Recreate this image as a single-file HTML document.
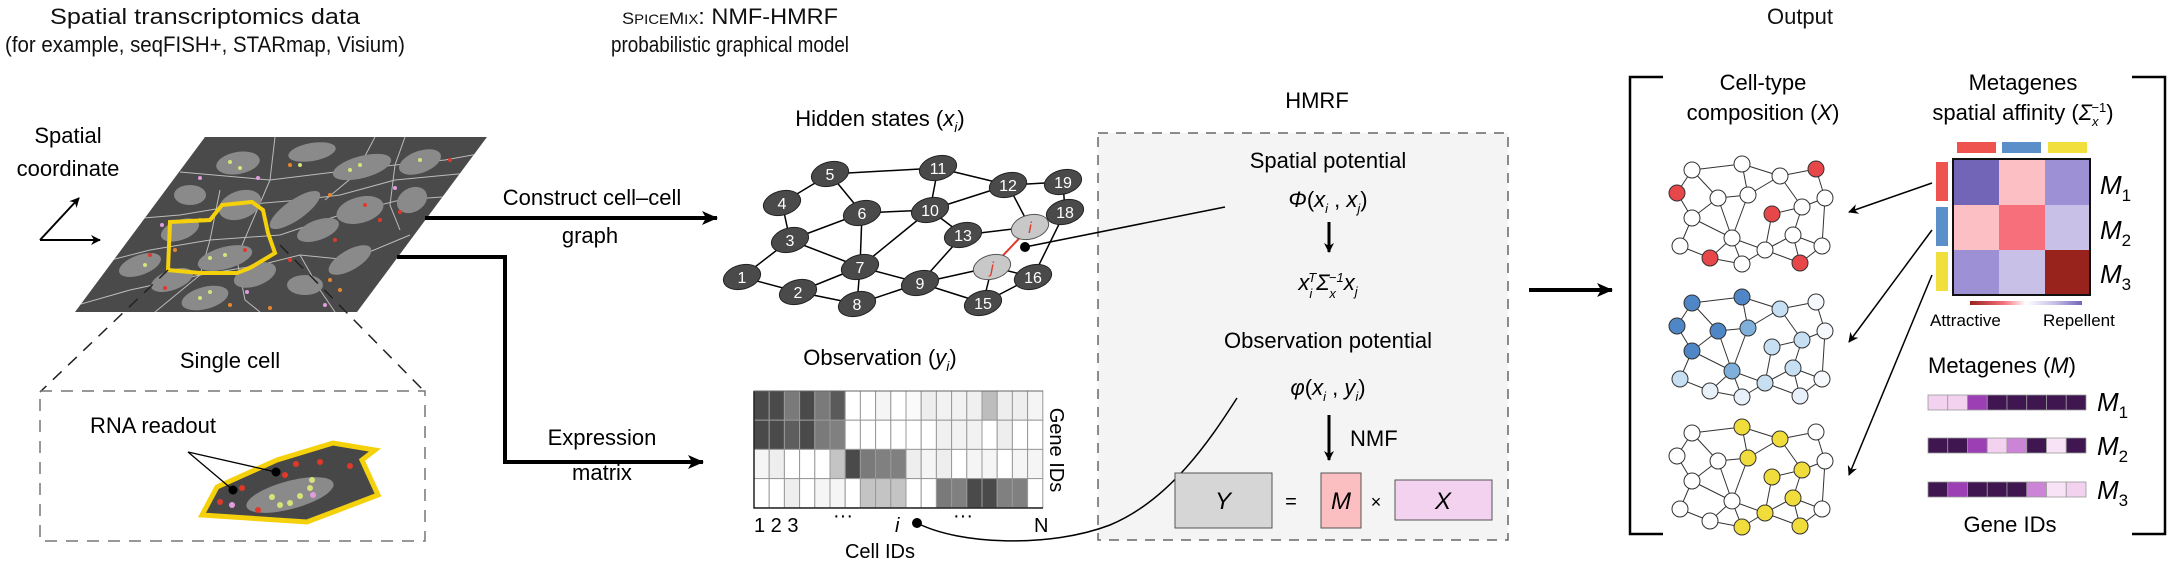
<!DOCTYPE html>
<html><head><meta charset="utf-8"><style>
html,body{margin:0;padding:0;background:#fff;}
svg{display:block;font-family:"Liberation Sans",sans-serif;}
</style></head><body>
<svg width="2167" height="566" viewBox="0 0 2167 566" xmlns="http://www.w3.org/2000/svg">
<defs>
<marker id="ah" markerWidth="10" markerHeight="10" refX="9" refY="5" orient="auto" markerUnits="userSpaceOnUse"><path d="M0,0 L10,5 L0,10 L3,5 z" fill="#000"/></marker>
<marker id="ahb" markerWidth="16" markerHeight="14" refX="15" refY="7" orient="auto" markerUnits="userSpaceOnUse"><path d="M0,0 L16,7 L0,14 L4,7 z" fill="#000"/></marker>
<clipPath id="pg"><polygon points="205,137 487,137 357,312 75,312"/></clipPath>
<linearGradient id="grad" x1="0" x2="1"><stop offset="0" stop-color="#98221c"/><stop offset="0.3" stop-color="#f76f7a"/><stop offset="0.5" stop-color="#ffffff"/><stop offset="0.75" stop-color="#c9c0e8"/><stop offset="1" stop-color="#7265b8"/></linearGradient>
</defs>

<!-- Titles -->
<g font-size="22" text-anchor="middle" fill="#111">
<text x="205" y="24" textLength="310" lengthAdjust="spacingAndGlyphs">Spatial transcriptomics data</text>
<text x="205" y="52" textLength="400" lengthAdjust="spacingAndGlyphs">(for example, seqFISH+, STARmap, Visium)</text>
<text x="730" y="24" textLength="216" lengthAdjust="spacingAndGlyphs"><tspan font-size="17">S</tspan><tspan font-size="14">PICE</tspan><tspan font-size="17">M</tspan><tspan font-size="14">IX</tspan>: NMF-HMRF</text>
<text x="730" y="52" textLength="238" lengthAdjust="spacingAndGlyphs">probabilistic graphical model</text>
<text x="1800" y="24">Output</text>
</g>

<!-- Spatial coordinate -->
<g font-size="22" text-anchor="middle"><text x="68" y="143">Spatial</text><text x="68" y="176">coordinate</text></g>
<line x1="40" y1="240" x2="79" y2="198" stroke="#000" stroke-width="2" marker-end="url(#ah)"/>
<line x1="40" y1="240" x2="100" y2="240" stroke="#000" stroke-width="2" marker-end="url(#ah)"/>

<!-- Tissue parallelogram -->
<polygon points="205,137 487,137 357,312 75,312" fill="#4a4a4a"/>
<g clip-path="url(#pg)">
<g fill="none" stroke="#bbb" stroke-width="1">
<path d="M180,172 L270,180 L335,172 L395,165 L445,160 L500,150"/>
<path d="M120,220 L180,215 L240,205 L300,200 L340,195 L395,180 L500,170"/>
<path d="M80,268 L150,250 L210,240 L280,235 L340,215 L400,200 L470,195"/>
<path d="M60,310 L130,290 L200,275 L260,265 L300,255 L350,260 L410,235"/>
<path d="M275,137 L270,180 L255,215 L240,250"/>
<path d="M375,137 L355,175 L325,200"/>
<path d="M405,137 L395,165 L390,205 L400,230"/>
<path d="M220,190 L210,240 L200,275 L155,312"/>
<path d="M235,250 L245,300 L260,312"/>
<path d="M300,255 L320,290 L335,312"/>
</g>
<g fill="#8a8a8a">
<ellipse cx="238" cy="163" rx="22" ry="11" transform="rotate(-10 238 163)"/>
<ellipse cx="312" cy="152" rx="24" ry="9" transform="rotate(-10 312 152)"/>
<ellipse cx="362" cy="167" rx="30" ry="11" transform="rotate(-15 362 167)"/>
<ellipse cx="420" cy="162" rx="22" ry="11" transform="rotate(-20 420 162)"/>
<ellipse cx="190" cy="195" rx="16" ry="10"/>
<ellipse cx="240" cy="205" rx="22" ry="14" transform="rotate(-20 240 205)"/>
<ellipse cx="295" cy="210" rx="30" ry="10" transform="rotate(-35 295 210)"/>
<ellipse cx="360" cy="210" rx="24" ry="13" transform="rotate(-15 360 210)"/>
<ellipse cx="412" cy="200" rx="16" ry="12" transform="rotate(-30 412 200)"/>
<ellipse cx="180" cy="230" rx="20" ry="10" transform="rotate(-20 180 230)"/>
<ellipse cx="318" cy="230" rx="22" ry="10" transform="rotate(-20 318 230)"/>
<ellipse cx="140" cy="265" rx="22" ry="10" transform="rotate(-20 140 265)"/>
<ellipse cx="225" cy="258" rx="28" ry="11" transform="rotate(-15 225 258)"/>
<ellipse cx="350" cy="260" rx="24" ry="10" transform="rotate(-30 350 260)"/>
<ellipse cx="172" cy="280" rx="22" ry="10" transform="rotate(-20 172 280)"/>
<ellipse cx="255" cy="275" rx="22" ry="11" transform="rotate(-20 255 275)"/>
<ellipse cx="205" cy="298" rx="24" ry="11" transform="rotate(-15 205 298)"/>
<ellipse cx="305" cy="285" rx="18" ry="10"/>
</g>
<g fill="#d8e27a"><circle cx="230" cy="162" r="2"/><circle cx="240" cy="168" r="2"/><circle cx="350" cy="170" r="2"/><circle cx="360" cy="165" r="2"/><circle cx="420" cy="160" r="2"/><circle cx="210" cy="258" r="2"/><circle cx="225" cy="255" r="2"/><circle cx="145" cy="265" r="2"/><circle cx="200" cy="298" r="2"/><circle cx="210" cy="292" r="2"/><circle cx="300" cy="165" r="2"/></g>
<g fill="#e0392a"><circle cx="365" cy="205" r="2"/><circle cx="380" cy="220" r="2"/><circle cx="400" cy="212" r="2"/><circle cx="335" cy="240" r="2"/><circle cx="245" cy="250" r="2"/><circle cx="290" cy="260" r="2"/><circle cx="165" cy="288" r="2"/><circle cx="150" cy="255" r="2"/><circle cx="450" cy="160" r="2"/></g>
<g fill="#e8862a"><circle cx="175" cy="250" r="2"/><circle cx="290" cy="165" r="2"/><circle cx="330" cy="195" r="2"/><circle cx="330" cy="280" r="2"/><circle cx="340" cy="290" r="2"/><circle cx="270" cy="308" r="2"/><circle cx="230" cy="305" r="2"/><circle cx="200" cy="220" r="2"/></g>
<g fill="#e29be0"><circle cx="200" cy="178" r="2"/><circle cx="258" cy="178" r="2"/><circle cx="162" cy="225" r="2"/><circle cx="325" cy="305" r="2"/><circle cx="395" cy="188" r="2"/><circle cx="247" cy="292" r="2"/></g>
</g>
<polygon points="170,222 210,220 222,205 252,202 263,210 268,233 275,253 250,268 237,273 200,273 168,270" fill="none" stroke="#f5d10b" stroke-width="4"/>

<!-- Zoom dashed lines + box -->
<g stroke="#222" stroke-width="1.5" stroke-dasharray="12,9" fill="none">
<line x1="168" y1="270" x2="40" y2="392"/>
<line x1="280" y1="245" x2="425" y2="392"/>
</g>
<rect x="40" y="391" width="385" height="150" fill="none" stroke="#777" stroke-width="1.5" stroke-dasharray="12,9"/>
<text x="230" y="368" font-size="22" text-anchor="middle">Single cell</text>
<text x="90" y="433" font-size="22">RNA readout</text>
<polygon points="202,515 217,487 277,460 333,443 375,450 362,460 378,495 307,522" fill="#474747" stroke="#f5d10b" stroke-width="5"/>
<ellipse cx="290" cy="495" rx="45" ry="14" transform="rotate(-15 290 495)" fill="#8a8a8a"/>
<g fill="#d8e27a"><circle cx="272" cy="497" r="3"/><circle cx="290" cy="503" r="3"/><circle cx="300" cy="496" r="3"/><circle cx="310" cy="488" r="3"/><circle cx="280" cy="505" r="3"/><circle cx="312" cy="480" r="3"/></g>
<g fill="#e0392a"><circle cx="242" cy="488" r="3"/><circle cx="285" cy="475" r="3"/><circle cx="350" cy="466" r="3"/><circle cx="320" cy="462" r="3"/><circle cx="220" cy="502" r="3"/><circle cx="258" cy="510" r="3"/><circle cx="296" cy="464" r="3"/></g>
<g fill="#e29be0"><circle cx="232" cy="505" r="3"/><circle cx="313" cy="495" r="3"/></g>
<g stroke="#000" stroke-width="1.3"><line x1="188" y1="452" x2="233" y2="490"/><line x1="188" y1="452" x2="276" y2="472"/></g>
<circle cx="233" cy="490" r="4.5" fill="#000"/><circle cx="276" cy="472" r="4.5" fill="#000"/>

<!-- Main arrows -->
<line x1="425" y1="218" x2="717" y2="218" stroke="#000" stroke-width="4" marker-end="url(#ahb)"/>
<g font-size="22" text-anchor="middle"><text x="592" y="205">Construct cell–cell</text><text x="590" y="243">graph</text></g>
<polyline points="397,257 505,257 505,462 703,462" fill="none" stroke="#000" stroke-width="4" marker-end="url(#ahb)"/>
<g font-size="22" text-anchor="middle"><text x="602" y="445">Expression</text><text x="602" y="480">matrix</text></g>

<!-- HMRF box (drawn before graph/lines) -->
<text x="1317" y="108" font-size="22" text-anchor="middle">HMRF</text>
<rect x="1098" y="133" width="410" height="407" fill="#f4f4f4" stroke="#666" stroke-width="1.5" stroke-dasharray="10,8"/>

<!-- Hidden states graph -->
<text x="880" y="126" font-size="22" text-anchor="middle">Hidden states (<tspan font-style="italic">x</tspan><tspan font-style="italic" font-size="14" dy="6">i</tspan><tspan dy="-6">)</tspan></text>
<g stroke="#000" stroke-width="1.5">
<line x1="742" y1="277" x2="790" y2="240"/><line x1="742" y1="277" x2="798" y2="292"/>
<line x1="798" y1="292" x2="860" y2="267"/><line x1="798" y1="292" x2="857" y2="304"/>
<line x1="790" y1="240" x2="782" y2="203"/><line x1="782" y1="203" x2="830" y2="174"/>
<line x1="830" y1="174" x2="862" y2="213"/><line x1="830" y1="174" x2="938" y2="168"/>
<line x1="790" y1="240" x2="862" y2="213"/><line x1="790" y1="240" x2="860" y2="267"/>
<line x1="862" y1="213" x2="860" y2="267"/><line x1="862" y1="213" x2="930" y2="210"/>
<line x1="860" y1="267" x2="857" y2="304"/><line x1="860" y1="267" x2="920" y2="283"/>
<line x1="860" y1="267" x2="930" y2="210"/><line x1="857" y1="304" x2="920" y2="283"/>
<line x1="920" y1="283" x2="963" y2="235"/><line x1="920" y1="283" x2="992" y2="267"/>
<line x1="920" y1="283" x2="983" y2="303"/><line x1="930" y1="210" x2="938" y2="168"/>
<line x1="930" y1="210" x2="1008" y2="185"/><line x1="930" y1="210" x2="963" y2="235"/>
<line x1="938" y1="168" x2="1008" y2="185"/><line x1="1008" y1="185" x2="1030" y2="227"/>
<line x1="963" y1="235" x2="1030" y2="227"/><line x1="992" y1="267" x2="983" y2="303"/>
<line x1="992" y1="267" x2="1033" y2="277"/><line x1="983" y1="303" x2="1033" y2="277"/>
<line x1="1008" y1="185" x2="1063" y2="182"/><line x1="1063" y1="182" x2="1065" y2="212"/>
<line x1="1065" y1="212" x2="1033" y2="277"/><line x1="1030" y1="227" x2="1065" y2="212"/>
</g>
<line x1="1030" y1="227" x2="992" y2="267" stroke="#e0392a" stroke-width="2"/>
<g fill="#4a4a4a" stroke="#222" stroke-width="1">
<ellipse cx="742" cy="277" rx="19" ry="12" transform="rotate(-15 742 277)"/>
<ellipse cx="798" cy="292" rx="19" ry="12" transform="rotate(-15 798 292)"/>
<ellipse cx="790" cy="240" rx="19" ry="12" transform="rotate(-15 790 240)"/>
<ellipse cx="782" cy="203" rx="19" ry="12" transform="rotate(-15 782 203)"/>
<ellipse cx="830" cy="174" rx="19" ry="12" transform="rotate(-15 830 174)"/>
<ellipse cx="862" cy="213" rx="19" ry="12" transform="rotate(-15 862 213)"/>
<ellipse cx="860" cy="267" rx="19" ry="12" transform="rotate(-15 860 267)"/>
<ellipse cx="857" cy="304" rx="19" ry="12" transform="rotate(-15 857 304)"/>
<ellipse cx="920" cy="283" rx="19" ry="12" transform="rotate(-15 920 283)"/>
<ellipse cx="930" cy="210" rx="19" ry="12" transform="rotate(-15 930 210)"/>
<ellipse cx="938" cy="168" rx="19" ry="12" transform="rotate(-15 938 168)"/>
<ellipse cx="1008" cy="185" rx="19" ry="12" transform="rotate(-15 1008 185)"/>
<ellipse cx="963" cy="235" rx="19" ry="12" transform="rotate(-15 963 235)"/>
<ellipse cx="983" cy="303" rx="19" ry="12" transform="rotate(-15 983 303)"/>
<ellipse cx="1033" cy="277" rx="19" ry="12" transform="rotate(-15 1033 277)"/>
<ellipse cx="1063" cy="182" rx="19" ry="12" transform="rotate(-15 1063 182)"/>
<ellipse cx="1065" cy="212" rx="19" ry="12" transform="rotate(-15 1065 212)"/>
</g>
<g fill="#c8c8c8" stroke="#555" stroke-width="1">
<ellipse cx="1030" cy="227" rx="19" ry="12" transform="rotate(-15 1030 227)"/>
<ellipse cx="992" cy="267" rx="19" ry="12" transform="rotate(-15 992 267)"/>
</g>
<g fill="#fff" font-size="16" text-anchor="middle">
<text x="742" y="283">1</text><text x="798" y="298">2</text><text x="790" y="246">3</text><text x="782" y="209">4</text><text x="830" y="180">5</text><text x="862" y="219">6</text><text x="860" y="273">7</text><text x="857" y="310">8</text><text x="920" y="289">9</text><text x="930" y="216">10</text><text x="938" y="174">11</text><text x="1008" y="191">12</text><text x="963" y="241">13</text><text x="983" y="309">15</text><text x="1033" y="283">16</text><text x="1063" y="188">19</text><text x="1065" y="218">18</text>
</g>
<g fill="#e0392a" font-size="16" font-style="italic" text-anchor="middle"><text x="1030" y="233">i</text><text x="992" y="273">j</text></g>
<line x1="1025" y1="247" x2="1225" y2="207" stroke="#000" stroke-width="1.5"/>
<circle cx="1025" cy="247" r="5" fill="#000"/>

<!-- Observation matrix -->
<text x="880" y="365" font-size="22" text-anchor="middle">Observation (<tspan font-style="italic">y</tspan><tspan font-style="italic" font-size="14" dy="6">i</tspan><tspan dy="-6">)</tspan></text>
<g stroke="#999" stroke-width="1">
<rect x="754" y="391" width="15.2" height="29.2" fill="#4a4a4a"/><rect x="769.2" y="391" width="15.2" height="29.2" fill="#4a4a4a"/><rect x="784.4" y="391" width="15.2" height="29.2" fill="#7a7a7a"/><rect x="799.6" y="391" width="15.2" height="29.2" fill="#4a4a4a"/><rect x="814.8" y="391" width="15.2" height="29.2" fill="#7a7a7a"/><rect x="830" y="391" width="15.2" height="29.2" fill="#5a5a5a"/><rect x="845.2" y="391" width="15.2" height="29.2" fill="#fff"/><rect x="860.4" y="391" width="15.2" height="29.2" fill="#fff"/><rect x="875.6" y="391" width="15.2" height="29.2" fill="#f5f5f5"/><rect x="890.8" y="391" width="15.2" height="29.2" fill="#fff"/><rect x="906" y="391" width="15.2" height="29.2" fill="#fafafa"/><rect x="921.2" y="391" width="15.2" height="29.2" fill="#eee"/><rect x="936.4" y="391" width="15.2" height="29.2" fill="#f2f2f2"/><rect x="951.6" y="391" width="15.2" height="29.2" fill="#f2f2f2"/><rect x="966.8" y="391" width="15.2" height="29.2" fill="#f0f0f0"/><rect x="982" y="391" width="15.2" height="29.2" fill="#bdbdbd"/><rect x="997.2" y="391" width="15.2" height="29.2" fill="#eee"/><rect x="1012.4" y="391" width="15.2" height="29.2" fill="#eee"/><rect x="1027.6" y="391" width="15.2" height="29.2" fill="#f5f5f5"/>
<rect x="754" y="420.2" width="15.2" height="29.2" fill="#4a4a4a"/><rect x="769.2" y="420.2" width="15.2" height="29.2" fill="#4a4a4a"/><rect x="784.4" y="420.2" width="15.2" height="29.2" fill="#5e5e5e"/><rect x="799.6" y="420.2" width="15.2" height="29.2" fill="#4a4a4a"/><rect x="814.8" y="420.2" width="15.2" height="29.2" fill="#7a7a7a"/><rect x="830" y="420.2" width="15.2" height="29.2" fill="#808080"/><rect x="845.2" y="420.2" width="15.2" height="29.2" fill="#fff"/><rect x="860.4" y="420.2" width="15.2" height="29.2" fill="#fff"/><rect x="875.6" y="420.2" width="15.2" height="29.2" fill="#fff"/><rect x="890.8" y="420.2" width="15.2" height="29.2" fill="#fff"/><rect x="906" y="420.2" width="15.2" height="29.2" fill="#fff"/><rect x="921.2" y="420.2" width="15.2" height="29.2" fill="#fff"/><rect x="936.4" y="420.2" width="15.2" height="29.2" fill="#f0f0f0"/><rect x="951.6" y="420.2" width="15.2" height="29.2" fill="#f2f2f2"/><rect x="966.8" y="420.2" width="15.2" height="29.2" fill="#f2f2f2"/><rect x="982" y="420.2" width="15.2" height="29.2" fill="#fff"/><rect x="997.2" y="420.2" width="15.2" height="29.2" fill="#eee"/><rect x="1012.4" y="420.2" width="15.2" height="29.2" fill="#fff"/><rect x="1027.6" y="420.2" width="15.2" height="29.2" fill="#fff"/>
<rect x="754" y="449.4" width="15.2" height="29.2" fill="#f5f5f5"/><rect x="769.2" y="449.4" width="15.2" height="29.2" fill="#eee"/><rect x="784.4" y="449.4" width="15.2" height="29.2" fill="#fff"/><rect x="799.6" y="449.4" width="15.2" height="29.2" fill="#fff"/><rect x="814.8" y="449.4" width="15.2" height="29.2" fill="#fff"/><rect x="830" y="449.4" width="15.2" height="29.2" fill="#c4c4c4"/><rect x="845.2" y="449.4" width="15.2" height="29.2" fill="#4a4a4a"/><rect x="860.4" y="449.4" width="15.2" height="29.2" fill="#7a7a7a"/><rect x="875.6" y="449.4" width="15.2" height="29.2" fill="#808080"/><rect x="890.8" y="449.4" width="15.2" height="29.2" fill="#808080"/><rect x="906" y="449.4" width="15.2" height="29.2" fill="#eee"/><rect x="921.2" y="449.4" width="15.2" height="29.2" fill="#f5f5f5"/><rect x="936.4" y="449.4" width="15.2" height="29.2" fill="#eee"/><rect x="951.6" y="449.4" width="15.2" height="29.2" fill="#fff"/><rect x="966.8" y="449.4" width="15.2" height="29.2" fill="#f5f5f5"/><rect x="982" y="449.4" width="15.2" height="29.2" fill="#f5f5f5"/><rect x="997.2" y="449.4" width="15.2" height="29.2" fill="#fff"/><rect x="1012.4" y="449.4" width="15.2" height="29.2" fill="#f5f5f5"/><rect x="1027.6" y="449.4" width="15.2" height="29.2" fill="#f5f5f5"/>
<rect x="754" y="478.6" width="15.2" height="29.2" fill="#fff"/><rect x="769.2" y="478.6" width="15.2" height="29.2" fill="#fff"/><rect x="784.4" y="478.6" width="15.2" height="29.2" fill="#eee"/><rect x="799.6" y="478.6" width="15.2" height="29.2" fill="#fff"/><rect x="814.8" y="478.6" width="15.2" height="29.2" fill="#f5f5f5"/><rect x="830" y="478.6" width="15.2" height="29.2" fill="#f5f5f5"/><rect x="845.2" y="478.6" width="15.2" height="29.2" fill="#fff"/><rect x="860.4" y="478.6" width="15.2" height="29.2" fill="#c4c4c4"/><rect x="875.6" y="478.6" width="15.2" height="29.2" fill="#c4c4c4"/><rect x="890.8" y="478.6" width="15.2" height="29.2" fill="#c4c4c4"/><rect x="906" y="478.6" width="15.2" height="29.2" fill="#fff"/><rect x="921.2" y="478.6" width="15.2" height="29.2" fill="#fff"/><rect x="936.4" y="478.6" width="15.2" height="29.2" fill="#7a7a7a"/><rect x="951.6" y="478.6" width="15.2" height="29.2" fill="#808080"/><rect x="966.8" y="478.6" width="15.2" height="29.2" fill="#4a4a4a"/><rect x="982" y="478.6" width="15.2" height="29.2" fill="#4a4a4a"/><rect x="997.2" y="478.6" width="15.2" height="29.2" fill="#808080"/><rect x="1012.4" y="478.6" width="15.2" height="29.2" fill="#808080"/><rect x="1027.6" y="478.6" width="15.2" height="29.2" fill="#fff"/>
</g>
<polyline points="754,391 754,508 1043,508" fill="none" stroke="#222" stroke-width="1.5"/>
<line x1="754" y1="391" x2="1043" y2="391" stroke="#666" stroke-width="1"/>
<g font-size="20">
<text x="754" y="532">1 2 3</text><text x="833" y="522">···</text><text x="895" y="532" font-style="italic">i</text><text x="953" y="522">···</text><text x="1034" y="532">N</text>
</g>
<text x="1050" y="450" font-size="20" text-anchor="middle" transform="rotate(90 1050 450)">Gene IDs</text>
<text x="880" y="558" font-size="20" text-anchor="middle">Cell IDs</text>
<path d="M917,523 C960,545 1050,548 1110,525 C1170,500 1210,440 1237,398" fill="none" stroke="#000" stroke-width="1.5"/>
<circle cx="917" cy="523" r="5" fill="#000"/>

<!-- HMRF contents -->
<g font-size="22" text-anchor="middle">
<text x="1328" y="168">Spatial potential</text>
<text x="1328" y="207"><tspan font-style="italic">Φ</tspan>(<tspan font-style="italic">x</tspan><tspan font-size="13" font-style="italic" dy="6">i</tspan><tspan dy="-6"> , </tspan><tspan font-style="italic">x</tspan><tspan font-size="13" font-style="italic" dy="6">j</tspan><tspan dy="-6">)</tspan></text>
<text x="1328" y="290" font-style="italic">x<tspan font-size="13" dy="8">i</tspan><tspan font-size="13" dx="-4" dy="-16">T</tspan><tspan dy="8">Σ</tspan><tspan font-size="13" dy="8">x</tspan><tspan font-size="13" dx="-7" dy="-16">−1</tspan><tspan dy="8">x</tspan><tspan font-size="13" dy="6">j</tspan></text>
<text x="1328" y="348">Observation potential</text>
<text x="1328" y="395"><tspan font-style="italic">φ</tspan>(<tspan font-style="italic">x</tspan><tspan font-size="13" font-style="italic" dy="6">i</tspan><tspan dy="-6"> , </tspan><tspan font-style="italic">y</tspan><tspan font-size="13" font-style="italic" dy="6">i</tspan><tspan dy="-6">)</tspan></text>
</g>
<line x1="1329" y1="222" x2="1329" y2="252" stroke="#000" stroke-width="3" marker-end="url(#ah)"/>
<line x1="1329" y1="415" x2="1329" y2="460" stroke="#000" stroke-width="3" marker-end="url(#ah)"/>
<text x="1350" y="446" font-size="22">NMF</text>
<rect x="1175" y="473" width="97" height="55" fill="#d6d6d6" stroke="#555" stroke-width="1"/>
<text x="1223" y="509" font-size="24" font-style="italic" text-anchor="middle">Y</text>
<text x="1291" y="508" font-size="20" text-anchor="middle">=</text>
<rect x="1321" y="473" width="40" height="55" fill="#fbbfc1" stroke="#555" stroke-width="1"/>
<text x="1341" y="509" font-size="24" font-style="italic" text-anchor="middle">M</text>
<text x="1376" y="508" font-size="18" text-anchor="middle">×</text>
<rect x="1395" y="480" width="97" height="40" fill="#f2d2ee" stroke="#555" stroke-width="1"/>
<text x="1443" y="509" font-size="24" font-style="italic" text-anchor="middle">X</text>

<!-- Output arrow -->
<line x1="1529" y1="290" x2="1612" y2="290" stroke="#000" stroke-width="4" marker-end="url(#ahb)"/>
<polyline points="1663,77 1630,77 1630,534 1663,534" fill="none" stroke="#000" stroke-width="2.5"/>
<polyline points="2132,77 2165,77 2165,534 2132,534" fill="none" stroke="#000" stroke-width="2.5"/>
<g font-size="22" text-anchor="middle">
<text x="1763" y="90">Cell-type</text>
<text x="1763" y="120">composition (<tspan font-style="italic">X</tspan>)</text>
<text x="2023" y="90">Metagenes</text>
<text x="2023" y="120">spatial affinity (<tspan font-style="italic">Σ</tspan><tspan font-style="italic" font-size="13" dy="6">x</tspan><tspan font-size="13" dx="-7" dy="-14">−1</tspan><tspan dy="8">)</tspan></text>
</g>

<!-- small graphs -->
<g id="sg">
<g stroke="#333" stroke-width="1">
<line x1="1692" y1="170" x2="1742" y2="164"/><line x1="1742" y1="164" x2="1780" y2="176"/><line x1="1780" y1="176" x2="1816" y2="169"/>
<line x1="1692" y1="170" x2="1677" y2="193"/><line x1="1692" y1="170" x2="1718" y2="198"/><line x1="1742" y1="164" x2="1748" y2="195"/>
<line x1="1780" y1="176" x2="1748" y2="195"/><line x1="1780" y1="176" x2="1802" y2="207"/><line x1="1816" y1="169" x2="1825" y2="198"/>
<line x1="1677" y1="193" x2="1692" y2="218"/><line x1="1718" y1="198" x2="1748" y2="195"/><line x1="1718" y1="198" x2="1692" y2="218"/>
<line x1="1718" y1="198" x2="1732" y2="238"/><line x1="1748" y1="195" x2="1732" y2="238"/><line x1="1772" y1="214" x2="1802" y2="207"/>
<line x1="1802" y1="207" x2="1825" y2="198"/><line x1="1772" y1="214" x2="1765" y2="250"/><line x1="1692" y1="218" x2="1732" y2="238"/>
<line x1="1692" y1="218" x2="1680" y2="246"/><line x1="1732" y1="238" x2="1742" y2="264"/><line x1="1732" y1="238" x2="1765" y2="250"/>
<line x1="1793" y1="235" x2="1802" y2="207"/><line x1="1793" y1="235" x2="1765" y2="250"/><line x1="1793" y1="235" x2="1800" y2="263"/>
<line x1="1793" y1="235" x2="1822" y2="246"/><line x1="1680" y1="246" x2="1710" y2="258"/><line x1="1710" y1="258" x2="1732" y2="238"/>
<line x1="1710" y1="258" x2="1742" y2="264"/><line x1="1742" y1="264" x2="1765" y2="250"/><line x1="1765" y1="250" x2="1800" y2="263"/>
<line x1="1800" y1="263" x2="1822" y2="246"/><line x1="1825" y1="198" x2="1822" y2="246"/>
</g>
</g>
<use href="#sg" y="133"/><use href="#sg" y="263"/>
<g stroke="#333" stroke-width="1">
<circle cx="1692" cy="170" r="8" fill="#fff"/><circle cx="1742" cy="164" r="8" fill="#fff"/><circle cx="1780" cy="176" r="8" fill="#fff"/><circle cx="1816" cy="169" r="8" fill="#e8474a"/>
<circle cx="1677" cy="193" r="8" fill="#e8474a"/><circle cx="1718" cy="198" r="8" fill="#fff"/><circle cx="1748" cy="195" r="8" fill="#fff"/><circle cx="1772" cy="214" r="8" fill="#e8474a"/>
<circle cx="1802" cy="207" r="8" fill="#fff"/><circle cx="1825" cy="198" r="8" fill="#fff"/><circle cx="1692" cy="218" r="8" fill="#fff"/><circle cx="1732" cy="238" r="8" fill="#fff"/>
<circle cx="1793" cy="235" r="8" fill="#fff"/><circle cx="1680" cy="246" r="8" fill="#fff"/><circle cx="1710" cy="258" r="8" fill="#e8474a"/><circle cx="1742" cy="264" r="8" fill="#fff"/>
<circle cx="1765" cy="250" r="8" fill="#fff"/><circle cx="1800" cy="263" r="8" fill="#e8474a"/><circle cx="1822" cy="246" r="8" fill="#fff"/>
<circle cx="1692" cy="303" r="8" fill="#4f86c6"/><circle cx="1742" cy="297" r="8" fill="#4f86c6"/><circle cx="1780" cy="309" r="8" fill="#c6dff2"/><circle cx="1816" cy="302" r="8" fill="#f5f8fc"/>
<circle cx="1677" cy="326" r="8" fill="#4f86c6"/><circle cx="1718" cy="331" r="8" fill="#4f86c6"/><circle cx="1748" cy="328" r="8" fill="#7fb0dc"/><circle cx="1772" cy="347" r="8" fill="#c6dff2"/>
<circle cx="1802" cy="340" r="8" fill="#c6dff2"/><circle cx="1825" cy="331" r="8" fill="#f5f8fc"/><circle cx="1692" cy="351" r="8" fill="#4f86c6"/><circle cx="1732" cy="371" r="8" fill="#7fb0dc"/>
<circle cx="1793" cy="368" r="8" fill="#c6dff2"/><circle cx="1680" cy="379" r="8" fill="#c6dff2"/><circle cx="1710" cy="391" r="8" fill="#e8f1fa"/><circle cx="1742" cy="397" r="8" fill="#e8f1fa"/>
<circle cx="1765" cy="383" r="8" fill="#c6dff2"/><circle cx="1800" cy="396" r="8" fill="#e8f1fa"/><circle cx="1822" cy="379" r="8" fill="#f5f8fc"/>
<circle cx="1692" cy="433" r="8" fill="#fff"/><circle cx="1742" cy="427" r="8" fill="#f0dc3a"/><circle cx="1780" cy="439" r="8" fill="#f0dc3a"/><circle cx="1816" cy="432" r="8" fill="#fff"/>
<circle cx="1677" cy="456" r="8" fill="#fff"/><circle cx="1718" cy="461" r="8" fill="#fff"/><circle cx="1748" cy="458" r="8" fill="#f0dc3a"/><circle cx="1772" cy="477" r="8" fill="#f0dc3a"/>
<circle cx="1802" cy="470" r="8" fill="#f0dc3a"/><circle cx="1825" cy="461" r="8" fill="#fff"/><circle cx="1692" cy="481" r="8" fill="#fff"/><circle cx="1732" cy="501" r="8" fill="#fff"/>
<circle cx="1793" cy="498" r="8" fill="#f0dc3a"/><circle cx="1680" cy="509" r="8" fill="#fff"/><circle cx="1710" cy="521" r="8" fill="#fff"/><circle cx="1742" cy="527" r="8" fill="#f0dc3a"/>
<circle cx="1765" cy="513" r="8" fill="#f0dc3a"/><circle cx="1800" cy="526" r="8" fill="#f0dc3a"/><circle cx="1822" cy="509" r="8" fill="#fff"/>
</g>

<!-- heatmap -->
<rect x="1957" y="142" width="39" height="11" fill="#ef5350"/><rect x="2002" y="142" width="39" height="11" fill="#5b8fc9"/><rect x="2048" y="142" width="39" height="11" fill="#f0df3c"/>
<rect x="1936" y="162" width="12" height="39" fill="#ef5350"/><rect x="1936" y="207" width="12" height="39" fill="#5b8fc9"/><rect x="1936" y="252" width="12" height="39" fill="#f0df3c"/>
<rect x="1953" y="159" width="46" height="46" fill="#7265b8"/><rect x="1999" y="159" width="46" height="46" fill="#fbbfc4"/><rect x="2045" y="159" width="45" height="46" fill="#9d90d4"/>
<rect x="1953" y="205" width="46" height="45" fill="#fbbfc4"/><rect x="1999" y="205" width="46" height="45" fill="#f76f7a"/><rect x="2045" y="205" width="45" height="45" fill="#c9c0e8"/>
<rect x="1953" y="250" width="46" height="45" fill="#9d90d4"/><rect x="1999" y="250" width="46" height="45" fill="#c9c0e8"/><rect x="2045" y="250" width="45" height="45" fill="#98221c"/>
<rect x="1953" y="159" width="137" height="136" fill="none" stroke="#111" stroke-width="2"/>
<g font-size="26" font-style="italic">
<text x="2100" y="194">M<tspan font-size="17" font-style="normal" dy="7">1</tspan></text>
<text x="2100" y="239">M<tspan font-size="17" font-style="normal" dy="7">2</tspan></text>
<text x="2100" y="283">M<tspan font-size="17" font-style="normal" dy="7">3</tspan></text>
</g>
<rect x="1970" y="301" width="112" height="4" fill="url(#grad)"/>
<text x="1930" y="326" font-size="17">Attractive</text><text x="2043" y="326" font-size="17">Repellent</text>
<text x="1928" y="373" font-size="22">Metagenes (<tspan font-style="italic">M</tspan>)</text>
<g stroke="#999" stroke-width="0.8">
<rect x="1928" y="395" width="19.75" height="15" fill="#f2d2ee"/><rect x="1947.75" y="395" width="19.75" height="15" fill="#f2d2ee"/><rect x="1967.5" y="395" width="19.75" height="15" fill="#9c3fb5"/><rect x="1987.25" y="395" width="19.75" height="15" fill="#3f1650"/><rect x="2007" y="395" width="19.75" height="15" fill="#3f1650"/><rect x="2026.75" y="395" width="19.75" height="15" fill="#3f1650"/><rect x="2046.5" y="395" width="19.75" height="15" fill="#3f1650"/><rect x="2066.25" y="395" width="19.75" height="15" fill="#3f1650"/>
<rect x="1928" y="438" width="19.75" height="15" fill="#3f1650"/><rect x="1947.75" y="438" width="19.75" height="15" fill="#3f1650"/><rect x="1967.5" y="438" width="19.75" height="15" fill="#9c3fb5"/><rect x="1987.25" y="438" width="19.75" height="15" fill="#f2d2ee"/><rect x="2007" y="438" width="19.75" height="15" fill="#cc84d6"/><rect x="2026.75" y="438" width="19.75" height="15" fill="#3f1650"/><rect x="2046.5" y="438" width="19.75" height="15" fill="#f7e3f5"/><rect x="2066.25" y="438" width="19.75" height="15" fill="#3f1650"/>
<rect x="1928" y="482" width="19.75" height="15" fill="#3f1650"/><rect x="1947.75" y="482" width="19.75" height="15" fill="#9c3fb5"/><rect x="1967.5" y="482" width="19.75" height="15" fill="#3f1650"/><rect x="1987.25" y="482" width="19.75" height="15" fill="#3f1650"/><rect x="2007" y="482" width="19.75" height="15" fill="#3f1650"/><rect x="2026.75" y="482" width="19.75" height="15" fill="#cc84d6"/><rect x="2046.5" y="482" width="19.75" height="15" fill="#f7e3f5"/><rect x="2066.25" y="482" width="19.75" height="15" fill="#f2d2ee"/>
</g>
<g font-size="26" font-style="italic">
<text x="2097" y="411">M<tspan font-size="17" font-style="normal" dy="7">1</tspan></text>
<text x="2097" y="455">M<tspan font-size="17" font-style="normal" dy="7">2</tspan></text>
<text x="2097" y="499">M<tspan font-size="17" font-style="normal" dy="7">3</tspan></text>
</g>
<text x="2010" y="532" font-size="22" text-anchor="middle">Gene IDs</text>
<g stroke="#000" stroke-width="1.5">
<line x1="1932" y1="183" x2="1849" y2="212" marker-end="url(#ah)"/>
<line x1="1932" y1="230" x2="1849" y2="342" marker-end="url(#ah)"/>
<line x1="1932" y1="275" x2="1849" y2="475" marker-end="url(#ah)"/>
</g>
</svg>
</body></html>
